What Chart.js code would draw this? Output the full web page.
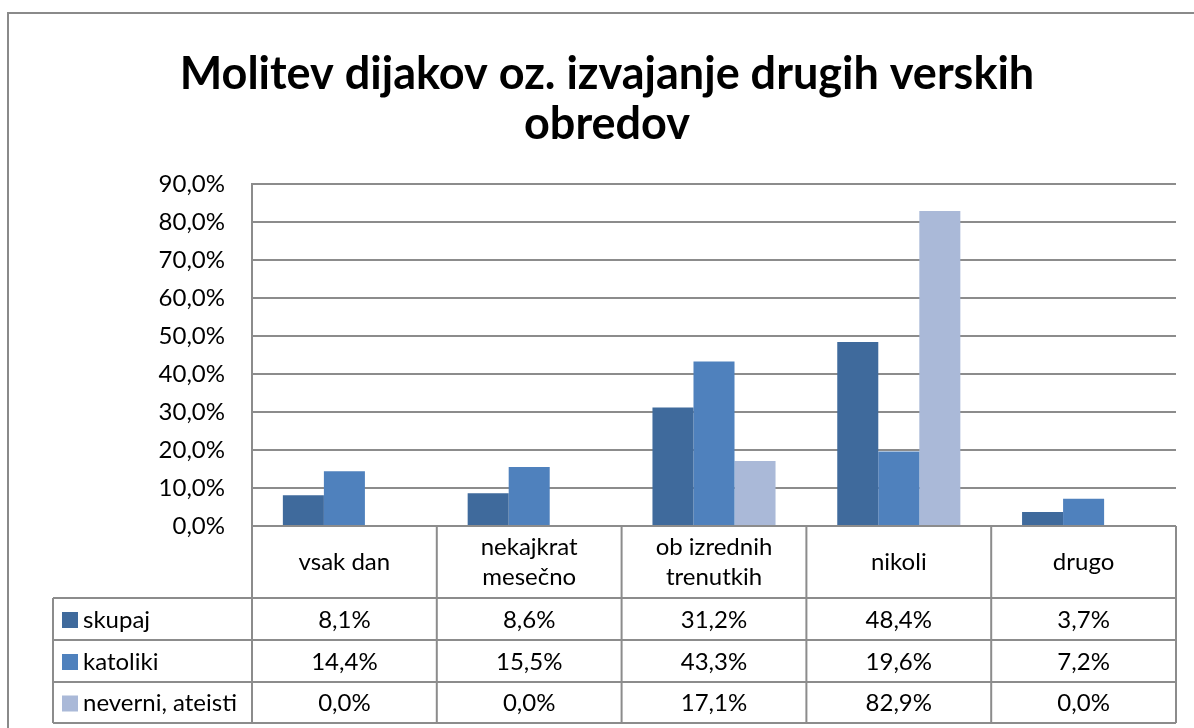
<!DOCTYPE html>
<html lang="sl">
<head>
<meta charset="UTF-8">
<title>Molitev dijakov</title>
<script src="https://cdn.jsdelivr.net/npm/chart.js"></script>
<style>
  html, body { margin: 0; padding: 0; background: #fff; }
  #wrap { width: 1194px; height: 728px; }
</style>
</head>
<body>
<div id="wrap"><canvas id="graf"></canvas></div>
<script>
const kategorije = ["vsak dan", ["nekajkrat", "mesečno"], ["ob izrednih", "trenutkih"], "nikoli", "drugo"];
const skupaj = [8.1, 8.6, 31.2, 48.4, 3.7];
const katoliki = [14.4, 15.5, 43.3, 19.6, 7.2];
const neverni = [0.0, 0.0, 17.1, 82.9, 0.0];
const yOznake = [0, 10, 20, 30, 40, 50, 60, 70, 80, 90];

const FONT = "Lato, 'DejaVu Sans', sans-serif";
const barve = ["#3f6a9c", "#4f81bd", "#aab9d8"];
const mreza = "#8c8c8c";
const odstotek = v => v.toFixed(1).replace(".", ",") + "%";

// tabela s podatki pod grafom
const tabelaPlugin = {
  id: "tabela",
  afterDraw(chart) {
    const ctx = chart.ctx, a = chart.chartArea, x = chart.scales.x;
    const n = kategorije.length;
    const meje = [];
    for (let i = 0; i <= n; i++) meje.push(x.getPixelForValue(i - 0.5));
    const vrstice = [a.bottom, 598, 640, 682, 723];
    const levo = 53;
    ctx.save();
    // okvir celotnega grafa
    ctx.strokeStyle = "#8a8a8a"; ctx.lineWidth = 2;
    ctx.strokeRect(8, 13, 1300, 900);

    ctx.strokeStyle = mreza; ctx.lineWidth = 2;
    ctx.beginPath();
    ctx.moveTo(meje[0], vrstice[0]); ctx.lineTo(meje[n], vrstice[0]);
    for (let r = 1; r < vrstice.length; r++) {
      ctx.moveTo(levo, vrstice[r]); ctx.lineTo(meje[n], vrstice[r]);
    }
    meje.forEach(m => { ctx.moveTo(m, vrstice[0]); ctx.lineTo(m, vrstice[4]); });
    ctx.moveTo(levo, vrstice[1]); ctx.lineTo(levo, vrstice[4]);
    ctx.stroke();

    ctx.fillStyle = "#000";
    ctx.font = "24px " + FONT;
    ctx.textAlign = "center"; ctx.textBaseline = "middle";
    kategorije.forEach((k, i) => {
      const cx = (meje[i] + meje[i + 1]) / 2;
      const cy = (vrstice[0] + vrstice[1]) / 2;
      if (Array.isArray(k)) {
        ctx.fillText(k[0], cx, cy - 15);
        ctx.fillText(k[1], cx, cy + 15);
      } else ctx.fillText(k, cx, cy);
    });
    chart.data.datasets.forEach((ds, r) => {
      const cy = (vrstice[r + 1] + vrstice[r + 2]) / 2 + 1;
      ctx.fillStyle = ds.backgroundColor;
      ctx.fillRect(62, cy - 8, 16, 16);
      ctx.fillStyle = "#000";
      ctx.textAlign = "left";
      ctx.fillText(ds.label, 83, cy);
      ctx.textAlign = "center";
      ds.data.forEach((v, i) => ctx.fillText(odstotek(v), (meje[i] + meje[i + 1]) / 2, cy));
    });
    ctx.restore();
  }
};

new Chart(document.getElementById("graf"), {
  type: "bar",
  data: {
    labels: kategorije,
    datasets: [
      { label: "skupaj", data: skupaj, backgroundColor: barve[0] },
      { label: "katoliki", data: katoliki, backgroundColor: barve[1] },
      { label: "neverni, ateisti", data: neverni, backgroundColor: barve[2] }
    ]
  },
  options: {
    responsive: true,
    maintainAspectRatio: false,
    animation: false,
    layout: { padding: { left: 38, right: 18, top: 0, bottom: 202 } },
    datasets: { bar: { categoryPercentage: 0.666, barPercentage: 1, borderWidth: 0 } },
    plugins: {
      legend: { display: false },
      tooltip: { enabled: false },
      title: {
        display: true,
        text: ["Molitev dijakov oz. izvajanje drugih verskih", "obredov"],
        color: "#000",
        font: { family: FONT, size: 45, weight: "bold", lineHeight: 1.11 },
        padding: { top: 50, bottom: 34 }
      }
    },
    scales: {
      x: { display: false },
      y: {
        min: 0, max: 90,
        afterFit: s => { s.width = 252 - 38; },
        afterBuildTicks: s => { s.ticks = yOznake.map(v => ({ value: v })); },
        ticks: { color: "#000", font: { family: FONT, size: 24 }, padding: 27, callback: v => odstotek(v) },
        grid: { color: mreza, lineWidth: 2, drawTicks: false },
        border: { display: true, color: mreza, width: 2 }
      }
    }
  },
  plugins: [tabelaPlugin]
});
</script>
</body>
</html>
